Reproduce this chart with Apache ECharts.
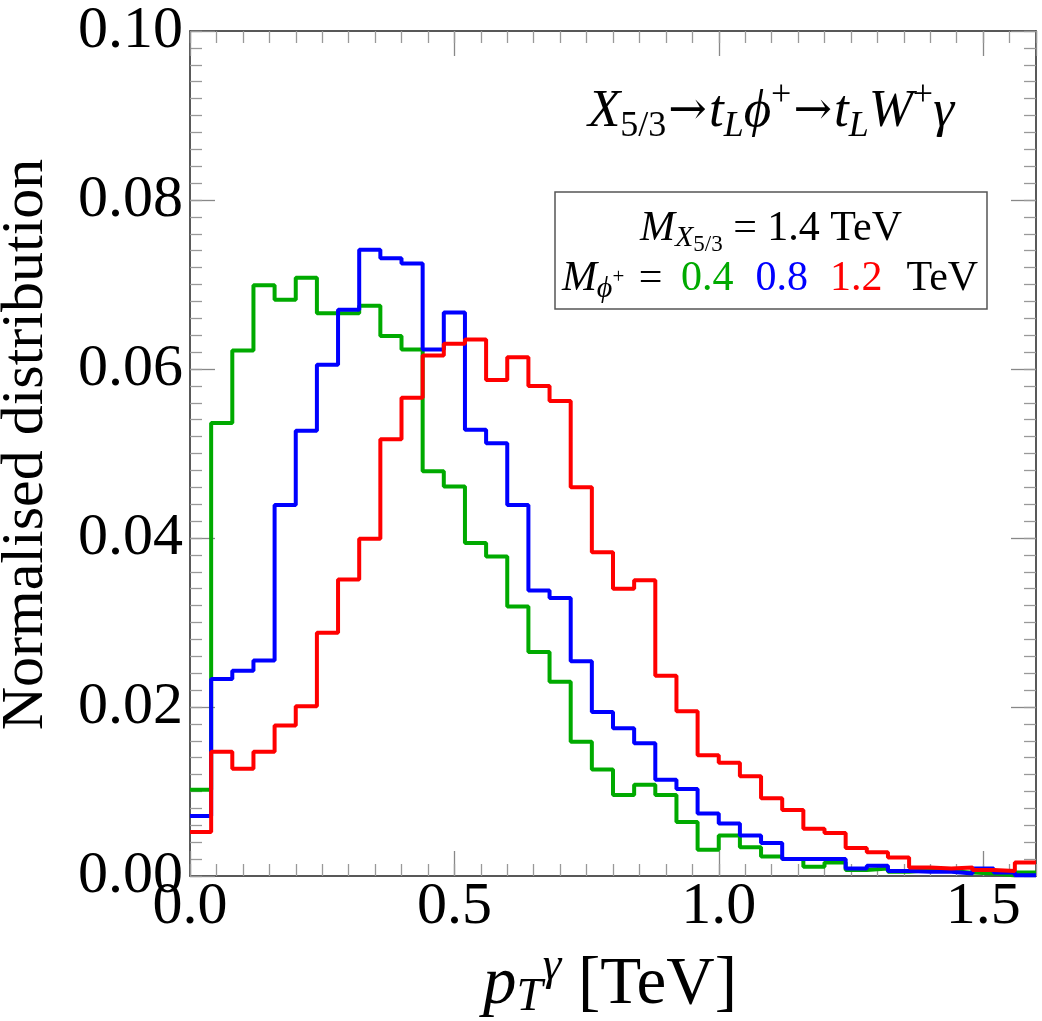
<!DOCTYPE html>
<html>
<head>
<meta charset="utf-8">
<script src="https://cdn.jsdelivr.net/npm/echarts@6/dist/echarts.min.js"></script>
<style>
html,body{margin:0;padding:0;background:#ffffff;}
#chart{width:1042px;height:1021px;}
</style>
</head>
<body>
<div id="chart"></div>
<script>
// Bin edges of the histogram (pT^gamma in TeV), 40 bins of 0.04 TeV
const binEdges = [0.00,0.04,0.08,0.12,0.16,0.20,0.24,0.28,0.32,0.36,
                  0.40,0.44,0.48,0.52,0.56,0.60,0.64,0.68,0.72,0.76,
                  0.80,0.84,0.88,0.92,0.96,1.00,1.04,1.08,1.12,1.16,
                  1.20,1.24,1.28,1.32,1.36,1.40,1.44,1.48,1.52,1.56,1.60];

// M_phi+ = 0.4 TeV (green)
const green04 = [0.0102,0.0536,0.0622,0.0699,0.0682,0.0708,0.0666,0.0666,0.0675,0.0639,
                 0.0623,0.0479,0.0461,0.0394,0.0378,0.0319,0.0265,0.0230,0.0159,0.0126,
                 0.0096,0.0108,0.0096,0.0064,0.0031,0.0048,0.0034,0.0023,0.0020,0.0011,
                 0.0016,0.0007,0.0009,0.0005,0.0007,0.0006,0.0004,0.0003,0.0001,0.0004];
// M_phi+ = 0.8 TeV (blue)
const blue08 = [0.0071,0.0233,0.0243,0.0255,0.0439,0.0527,0.0605,0.0670,0.0741,0.0731,
                0.0725,0.0623,0.0667,0.0528,0.0512,0.0439,0.0338,0.0329,0.0254,0.0194,
                0.0175,0.0157,0.0114,0.0103,0.0074,0.0062,0.0048,0.0039,0.0020,0.0020,
                0.0020,0.0009,0.0012,0.0006,0.0005,0.0005,0.0003,0.0009,0.0004,0.0001];
// M_phi+ = 1.2 TeV (red)
const red12 = [0.0052,0.0147,0.0127,0.0147,0.0178,0.0201,0.0288,0.0351,0.0399,0.0517,
               0.0566,0.0616,0.0630,0.0635,0.0587,0.0614,0.0580,0.0562,0.0460,0.0383,
               0.0340,0.0350,0.0237,0.0195,0.0143,0.0134,0.0118,0.0092,0.0078,0.0056,
               0.0051,0.0033,0.0028,0.0022,0.0010,0.0009,0.0010,0.0007,0.0006,0.0016];

const seriesNames = ['0.4', '0.8', '1.2'];
const seriesColors = ['#00aa00', '#0000ff', '#ff0000'];
const yTitle = 'Normalised distribution';

const F = '"Liberation Serif", "Times New Roman", serif';
const FA = '"DejaVu Serif", serif';

function stepData(vals) {
  return binEdges.map((x, i) => [x, vals[Math.min(i, vals.length - 1)]]);
}

function makeAxis(pos, min, max, interval, len, major, labelFmt, isX) {
  return {
    type: 'value', position: pos, min: min, max: max, interval: interval,
    axisLine: { show: major, onZero: false, lineStyle: { color: '#222', width: 1.5 } },
    axisTick: { show: true, inside: true, length: len, lineStyle: { color: major ? '#888' : '#999', width: 1.3 } },
    minorTick: { show: false },
    splitLine: { show: false },
    axisLabel: labelFmt ? {
      show: true, formatter: labelFmt, fontFamily: F, fontSize: 60, color: '#000',
      margin: isX ? 1 : 7, showMaxLabel: isX ? false : true, showMinLabel: true
    } : { show: false }
  };
}

const chart = echarts.init(document.getElementById('chart'), null, { renderer: 'canvas' });

function st(size, extra) {
  return Object.assign({ fontFamily: F, fontSize: size, fill: '#000', verticalAlign: 'middle' }, extra || {});
}

const yMain = makeAxis('left', 0, 0.1, 0.02, 25, true, v => v.toFixed(2), false);
yMain.name = yTitle;
yMain.nameLocation = 'middle';
yMain.nameRotate = 90;
yMain.nameGap = 134;
yMain.nameTextStyle = { fontFamily: F, fontSize: 60, color: '#000', padding: [0, 0, 0, 18] };

const option = {
  backgroundColor: '#ffffff',
  animation: false,
  grid: { left: 190, right: 6, top: 31, bottom: 145, containLabel: false, outerBoundsMode: 'none' },
  xAxis: [
    makeAxis('bottom', 0, 1.6, 0.5, 25, true, v => v.toFixed(1), true),
    makeAxis('bottom', 0, 1.6, 0.05, 12, false, null, true),
    makeAxis('top', 0, 1.6, 0.5, 25, true, null, true),
    makeAxis('top', 0, 1.6, 0.05, 12, false, null, true)
  ],
  yAxis: [
    yMain,
    makeAxis('left', 0, 0.1, 0.002, 12, false, null, false),
    makeAxis('right', 0, 0.1, 0.02, 25, true, null, false),
    makeAxis('right', 0, 0.1, 0.002, 12, false, null, false)
  ],
  series: [green04, blue08, red12].map((vals, k) => ({
    name: seriesNames[k],
    type: 'line',
    step: 'end',
    xAxisIndex: 0, yAxisIndex: 0,
    data: stepData(vals),
    showSymbol: false,
    symbol: 'none',
    lineStyle: { color: seriesColors[k], width: 4 },
    z: 2 + k
  })),
  graphic: [
    {
      type: 'text', x: 771, y: 112, z: 10,
      style: {
        align: 'center', verticalAlign: 'middle',
        text: '{i|X}{su|5/3}{a|→}{i|t}{si|L}{i|ϕ}{sp|+}{a|→}{i|t}{si|L}{i|W}{sp|+}{i|γ}',
        rich: {
          i: st(53, { fontStyle: 'italic' }),
          a: st(46, { fontFamily: FA, padding: [0, 2, 0, 2] }),
          su: st(36, { padding: [30, 0, 0, 0] }),
          si: st(36, { fontStyle: 'italic', padding: [30, 0, 0, 0] }),
          sp: st(36, { padding: [0, 0, 32, 0] })
        }
      }
    },
    {
      type: 'rect', z: 10,
      shape: { x: 555, y: 192, width: 432, height: 117 },
      style: { fill: '#ffffff', stroke: '#555', lineWidth: 1.5 }
    },
    {
      type: 'text', x: 771, y: 229, z: 11,
      style: {
        align: 'center', verticalAlign: 'middle',
        text: '{i|M}{si|X}{ss|5/3}{u| = 1.4 TeV}',
        rich: {
          i: st(42, { fontStyle: 'italic' }),
          u: st(42),
          si: st(30, { fontStyle: 'italic', padding: [18, 0, 0, 0] }),
          ss: st(23, { padding: [32, 0, 0, 0] })
        }
      }
    },
    {
      type: 'text', x: 772, y: 279, z: 11,
      style: {
        align: 'center', verticalAlign: 'middle',
        text: '{i|M}{si|ϕ}{sp|+}{eq| = }{g|0.4}{gap| }{b|0.8}{gap| }{r|1.2}{gap| }{u|TeV}',
        rich: {
          i: st(42, { fontStyle: 'italic' }),
          u: st(42, { padding: [0, 4, 0, 2] }),
          eq: st(42, { padding: [0, 8, 0, 4] }),
          gap: st(42, { width: 22 }),
          si: st(30, { fontStyle: 'italic', padding: [20, 0, 0, 0] }),
          sp: st(21, { padding: [0, 0, 4, 0] }),
          g: st(42, { fill: seriesColors[0] }),
          b: st(42, { fill: seriesColors[1] }),
          r: st(42, { fill: seriesColors[2] })
        }
      }
    },
    {
      type: 'text', x: 610, y: 985, z: 10,
      style: {
        align: 'center', verticalAlign: 'middle',
        text: '{i|p}{si|T}{sp|γ}{u| [TeV]}',
        rich: {
          i: st(67, { fontStyle: 'italic' }),
          u: st(67),
          si: st(47, { fontStyle: 'italic', padding: [26, 0, 0, 0] }),
          sp: st(47, { fontStyle: 'italic', padding: [0, 0, 36, 0] })
        }
      }
    }
  ]
};

chart.setOption(option);
</script>
</body>
</html>
